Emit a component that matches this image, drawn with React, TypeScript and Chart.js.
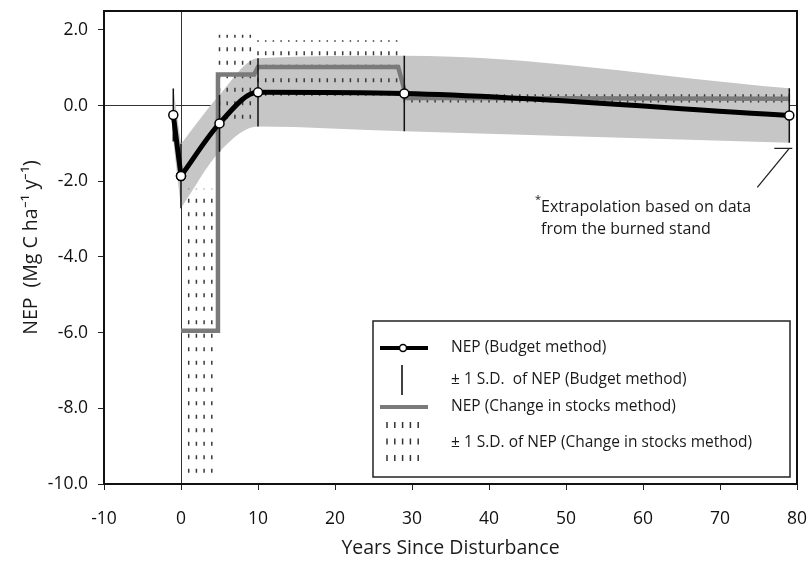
import React, { useEffect, useRef } from 'react';
import { Chart, registerables } from 'chart.js';

Chart.register(...registerables);

// ---- data ----
const budgetYears = [-1, 0, 5, 10, 29, 79];
const budgetNEP = [-0.25, -1.86, -0.47, 0.35, 0.32, -0.26];
const budgetSD = [0.7, 0.85, 0.75, 0.9, 1.0, 0.72];

const stocksYears = [0, 4.7, 4.8, 9.5, 10, 28.2, 29.3, 79];
const stocksNEP = [-5.95, -5.95, 0.82, 0.82, 1.02, 1.02, 0.2, 0.18];

const stocksSdStart = [1, 5, 10, 29];
const stocksSdEnd = [4, 9, 28, 79];
const stocksSdLow = [-9.7, -0.35, 0.26, 0.08];
const stocksSdHigh = [-2.2, 1.87, 1.73, 0.3];

const xMin = -10;
const xMax = 80;
const xTickValues = [-10, 0, 10, 20, 30, 40, 50, 60, 70, 80];
const yMin = -10;
const yMax = 2.5;
const yTickValues = [-10, -8, -6, -4, -2, 0, 2];
const yTickLabels = ['-10.0', '-8.0', '-6.0', '-4.0', '-2.0', '0.0', '2.0'];

const FONT = 'Open Sans';

const legendItems = [
  'NEP (Budget method)',
  '\u00B1 1 S.D.  of NEP (Budget method)',
  'NEP (Change in stocks method)',
  '\u00B1 1 S.D. of NEP (Change in stocks method)',
];
const noteLines = ['Extrapolation based on data', 'from the burned stand'];

function sdColumns(group: number) {
  const pts: { x: number; y: number | null }[] = [];
  for (let yr = stocksSdStart[group]; yr <= stocksSdEnd[group]; yr++) {
    pts.push({ x: yr, y: stocksSdLow[group] });
    pts.push({ x: yr, y: stocksSdHigh[group] });
    pts.push({ x: yr, y: null });
  }
  return pts;
}

const decorPlugin = {
  id: 'decor',
  afterDraw(chart: any) {
    const { ctx, chartArea } = chart;
    const xs = chart.scales.x;
    const ys = chart.scales.y;
    ctx.save();
    // frame
    ctx.strokeStyle = '#111';
    ctx.lineWidth = 2;
    ctx.strokeRect(chartArea.left, chartArea.top, chartArea.right - chartArea.left, chartArea.bottom - chartArea.top);

    // annotation leader
    const px = xs.getPixelForValue(79);
    const py = ys.getPixelForValue(-1.13);
    ctx.strokeStyle = '#222';
    ctx.lineWidth = 1.3;
    ctx.beginPath();
    ctx.moveTo(px + 3, py);
    ctx.lineTo(px - 15, py);
    ctx.moveTo(px, py);
    ctx.lineTo(px - 32, py + 39);
    ctx.stroke();

    ctx.fillStyle = '#1a1a1a';
    ctx.font = `16px "${FONT}"`;
    ctx.textBaseline = 'middle';
    ctx.textAlign = 'left';
    ctx.fillText(noteLines[0], 541, 207);
    ctx.fillText(noteLines[1], 541, 229);
    ctx.font = `11px "${FONT}"`;
    ctx.fillText('*', 535, 200);

    // legend box
    const bx = 373, by = 321, bw = 417, bh = 156;
    ctx.fillStyle = '#fff';
    ctx.fillRect(bx, by, bw, bh);
    ctx.strokeStyle = '#222';
    ctx.lineWidth = 1.5;
    ctx.strokeRect(bx, by, bw, bh);

    const rows = [348, 380, 407, 443];
    // item 1
    ctx.strokeStyle = '#000';
    ctx.lineWidth = 4;
    ctx.beginPath();
    ctx.moveTo(380, rows[0]);
    ctx.lineTo(428, rows[0]);
    ctx.stroke();
    ctx.fillStyle = '#fff';
    ctx.lineWidth = 1.5;
    ctx.beginPath();
    ctx.arc(403, rows[0], 3.5, 0, Math.PI * 2);
    ctx.fill();
    ctx.stroke();
    // item 2
    ctx.lineWidth = 1.5;
    ctx.beginPath();
    ctx.moveTo(402, 365);
    ctx.lineTo(402, 395);
    ctx.stroke();
    // item 3
    ctx.strokeStyle = '#7a7a7a';
    ctx.lineWidth = 4;
    ctx.beginPath();
    ctx.moveTo(380, rows[2]);
    ctx.lineTo(428, rows[2]);
    ctx.stroke();
    // item 4
    ctx.strokeStyle = '#333';
    ctx.lineWidth = 1.5;
    for (let c = 0; c < 5; c++) {
      const cx = 387 + c * 7.8;
      for (let r = 0; r < 3; r++) {
        const cy = 422 + r * 16.5;
        ctx.beginPath();
        ctx.moveTo(cx, cy);
        ctx.lineTo(cx, cy + 6);
        ctx.stroke();
      }
    }
    ctx.fillStyle = '#1a1a1a';
    ctx.font = `15.5px "${FONT}"`;
    ctx.textBaseline = 'middle';
    legendItems.forEach((t, i) => ctx.fillText(t, 451, rows[i]));
    ctx.restore();
  },
};

export default function App() {
  const ref = useRef<HTMLCanvasElement | null>(null);

  useEffect(() => {
    document.body.style.margin = '0';
    const canvas = ref.current;
    if (!canvas) return;

    const pts = (idx: number[], f: (i: number) => number) => idx.map((i) => ({ x: budgetYears[i], y: f(i) }));
    const early = [0, 1];
    const main = budgetYears.map((_, i) => i).slice(1);
    const nep = (i: number) => budgetNEP[i];
    const up = (i: number) => budgetNEP[i] + budgetSD[i];
    const lo = (i: number) => budgetNEP[i] - budgetSD[i];

    const budgetBars: { x: number; y: number | null }[] = [];
    budgetYears.forEach((x, i) => {
      budgetBars.push({ x, y: lo(i) });
      budgetBars.push({ x, y: up(i) });
      budgetBars.push({ x, y: null });
    });
    const stocksLine = stocksYears.map((x, i) => ({ x, y: stocksNEP[i] }));

    const sdSets = stocksSdStart.map((_, g) => ({
      label: 'stocks sd ' + g,
      data: sdColumns(g),
      borderColor: '#3a3a3a',
      borderWidth: 1.5,
      borderDash: g < 3 ? [4, 9.5] : [],
      pointRadius: 0,
      tension: 0,
      spanGaps: false,
      fill: false,
      order: 3,
    }));

    const lineStyle = {
      borderColor: '#000',
      borderWidth: 5,
      pointRadius: 4.5,
      pointBackgroundColor: '#fff',
      pointBorderColor: '#000',
      pointBorderWidth: 1.5,
      fill: false,
      order: 0,
    };
    const bandStyle = {
      borderColor: 'rgba(0,0,0,0)',
      borderWidth: 0,
      backgroundColor: '#c6c6c6',
      pointRadius: 0,
    };

    const chart = new Chart(canvas, {
      type: 'line',
      data: {
        datasets: [
          { label: 'NEP (Budget method)', data: pts(main, nep), cubicInterpolationMode: 'monotone', ...lineStyle },
          { label: 'NEP (Budget method) early', data: pts(early, nep), tension: 0, ...lineStyle },
          {
            label: 'budget sd',
            data: budgetBars,
            borderColor: '#111',
            borderWidth: 1.5,
            pointRadius: 0,
            tension: 0,
            spanGaps: false,
            fill: false,
            order: 1,
          },
          {
            label: 'NEP (Change in stocks method)',
            data: stocksLine,
            borderColor: '#7a7a7a',
            borderWidth: 4.5,
            pointRadius: 0,
            tension: 0,
            fill: false,
            order: 2,
          },
          ...sdSets,
          { label: 'band upper', data: pts(main, up), cubicInterpolationMode: 'monotone', fill: '+1', order: 4, ...bandStyle },
          { label: 'band lower', data: pts(main, lo), cubicInterpolationMode: 'monotone', fill: false, order: 5, ...bandStyle },
          { label: 'band upper early', data: pts(early, up), tension: 0, fill: '+1', order: 4, ...bandStyle },
          { label: 'band lower early', data: pts(early, lo), tension: 0, fill: false, order: 5, ...bandStyle },
        ] as any,
      },
      options: {
        responsive: false,
        animation: false,
        events: [],
        layout: { padding: { left: 0, top: 11, right: 12, bottom: 0 } },
        plugins: {
          legend: { display: false },
          tooltip: { enabled: false },
        },
        scales: {
          x: {
            type: 'linear',
            min: xMin,
            max: xMax,
            afterBuildTicks: (s: any) => {
              s.ticks = xTickValues.map((v) => ({ value: v }));
            },
            afterFit: (s: any) => {
              s.height = 78;
              s.paddingLeft = 0;
              s.paddingRight = 0;
            },
            ticks: {
              color: '#111',
              padding: 19,
              font: { family: FONT, size: 17.5 },
              maxRotation: 0,
              autoSkip: false,
            },
            grid: {
              drawOnChartArea: true,
              color: (c: any) => (c.tick && c.tick.value === 0 ? '#333' : 'rgba(0,0,0,0)'),
              lineWidth: 1,
              tickColor: '#222',
              tickLength: 6,
            },
            border: { display: true, color: '#111', width: 2 },
            title: {
              display: true,
              text: 'Years Since Disturbance',
              color: '#1a1a1a',
              font: { family: FONT, size: 19.5 },
              padding: { top: 0, bottom: 2 },
            },
          },
          y: {
            type: 'linear',
            min: yMin,
            max: yMax,
            afterBuildTicks: (s: any) => {
              s.ticks = yTickValues.map((v) => ({ value: v }));
            },
            afterFit: (s: any) => {
              s.width = 104;
              s.paddingTop = 0;
              s.paddingBottom = 0;
            },
            ticks: {
              color: '#111',
              padding: 10,
              autoSkip: false,
              font: { family: FONT, size: 17.5 },
              callback: (v: any) => {
                const k = yTickValues.indexOf(Number(v));
                return k >= 0 ? yTickLabels[k] : '';
              },
            },
            grid: {
              drawOnChartArea: true,
              color: (c: any) => (c.tick && c.tick.value === 0 ? '#333' : 'rgba(0,0,0,0)'),
              lineWidth: 1,
              tickColor: '#222',
              tickLength: 6,
            },
            border: { display: true, color: '#111', width: 2 },
            title: {
              display: true,
              text: 'NEP  (Mg C ha\u207B\u00B9 y\u207B\u00B9)',
              color: '#1a1a1a',
              font: { family: FONT, size: 19.5 },
              padding: { top: 20, bottom: 0 },
            },
          },
        },
      },
      plugins: [decorPlugin],
    });

    return () => chart.destroy();
  }, []);

  return (
    <div style={{ position: 'absolute', left: 0, top: 0, width: 809, height: 562 }}>
      <canvas ref={ref} width={809} height={562} />
    </div>
  );
}
